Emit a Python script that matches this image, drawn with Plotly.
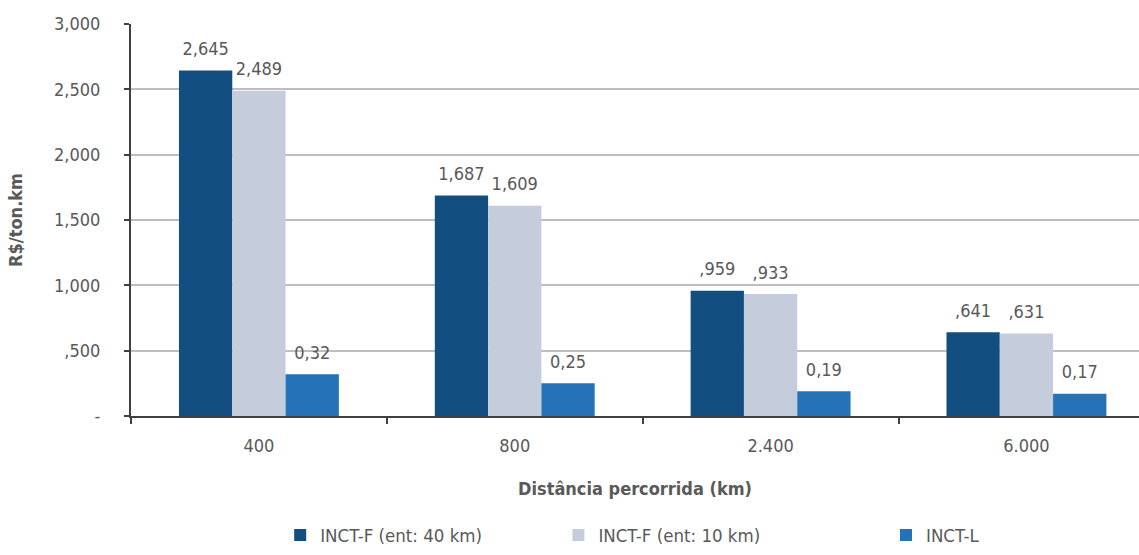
import plotly.graph_objects as go

categories = ["400", "800", "2.400", "6.000"]
series_names = ["INCT-F (ent: 40 km)", "INCT-F (ent: 10 km)", "INCT-L"]
inct_f40 = [2.645, 1.687, 0.959, 0.641]
inct_f10 = [2.489, 1.609, 0.933, 0.631]
inct_l = [0.32, 0.25, 0.19, 0.17]
labels_f40 = ["2,645", "1,687", ",959", ",641"]
labels_f10 = ["2,489", "1,609", ",933", ",631"]
labels_l = ["0,32", "0,25", "0,19", "0,17"]
y_tickvals = [0, 0.5, 1.0, 1.5, 2.0, 2.5, 3.0]
y_ticktext = ["-", ",500", "1,000", "1,500", "2,000", "2,500", "3,000"]

colors = ["#124E80", "#C5CCDC", "#2573B6"]
FONT = "DejaVu Sans Condensed, sans-serif"
GRAY = "#595959"
FS = 18

fig = go.Figure()
data = [(inct_f40, labels_f40), (inct_f10, labels_f10), (inct_l, labels_l)]
legends = ["legend", "legend2", "legend3"]
for i, (vals, labs) in enumerate(data):
    fig.add_trace(go.Bar(
        x=categories, y=vals, name=series_names[i],
        marker=dict(color=colors[i], line=dict(width=0)),
        offsetgroup=str(i), alignmentgroup="g",
        legend=legends[i], showlegend=True,
    ))
for i, (vals, labs) in enumerate(data):
    fig.add_trace(go.Scatter(
        x=categories, y=vals, mode="markers+text", text=labs,
        textposition="top center", cliponaxis=False,
        marker=dict(size=16, opacity=0),
        textfont=dict(family=FONT, size=FS, color=GRAY),
        offsetgroup=str(i), alignmentgroup="g",
        showlegend=False, hoverinfo="skip",
    ))

leg_common = dict(orientation="h", yanchor="middle", y=-0.305, xanchor="left",
                  font=dict(family=FONT, size=18.5, color=GRAY), bgcolor="rgba(0,0,0,0)",
                  visible=True)
fig.update_layout(
    width=1139, height=555,
    margin=dict(l=131, r=0, t=24, b=133),
    paper_bgcolor="white", plot_bgcolor="white",
    barmode="group", bargap=0.375, bargroupgap=0,
    scattermode="group", scattergap=0.375,
    font=dict(family=FONT, color=GRAY),
    showlegend=True,
    legend=dict(x=0.148, **leg_common),
    legend2=dict(x=0.424, **leg_common),
    legend3=dict(x=0.749, **leg_common),
)
fig.update_xaxes(
    type="category", range=[-0.5, 3.44],
    showline=True, linecolor="#404040", linewidth=2,
    ticks="outside", tickson="boundaries", ticklen=6, tickcolor="#404040", tickwidth=2,
    ticklabelstandoff=12,
    tickfont=dict(family=FONT, size=FS, color=GRAY),
    title=dict(text="<b>Distância percorrida (km)</b>", font=dict(family=FONT, size=FS, color=GRAY), standoff=28),
    showgrid=False,
)
fig.update_yaxes(
    range=[0, 3.0], tickvals=y_tickvals, ticktext=y_ticktext,
    showline=True, linecolor="#404040", linewidth=2,
    ticks="outside", ticklen=5, tickcolor="#404040", tickwidth=2,
    ticklabelstandoff=20,
    tickfont=dict(family=FONT, size=FS, color=GRAY),
    showgrid=True, gridcolor="#BEBEBE", gridwidth=1.5,
    zeroline=False,
    title=dict(text="<b>R$/ton.km</b>", font=dict(family=FONT, size=FS, color=GRAY), standoff=27),
)
fig.write_html("out.html")
